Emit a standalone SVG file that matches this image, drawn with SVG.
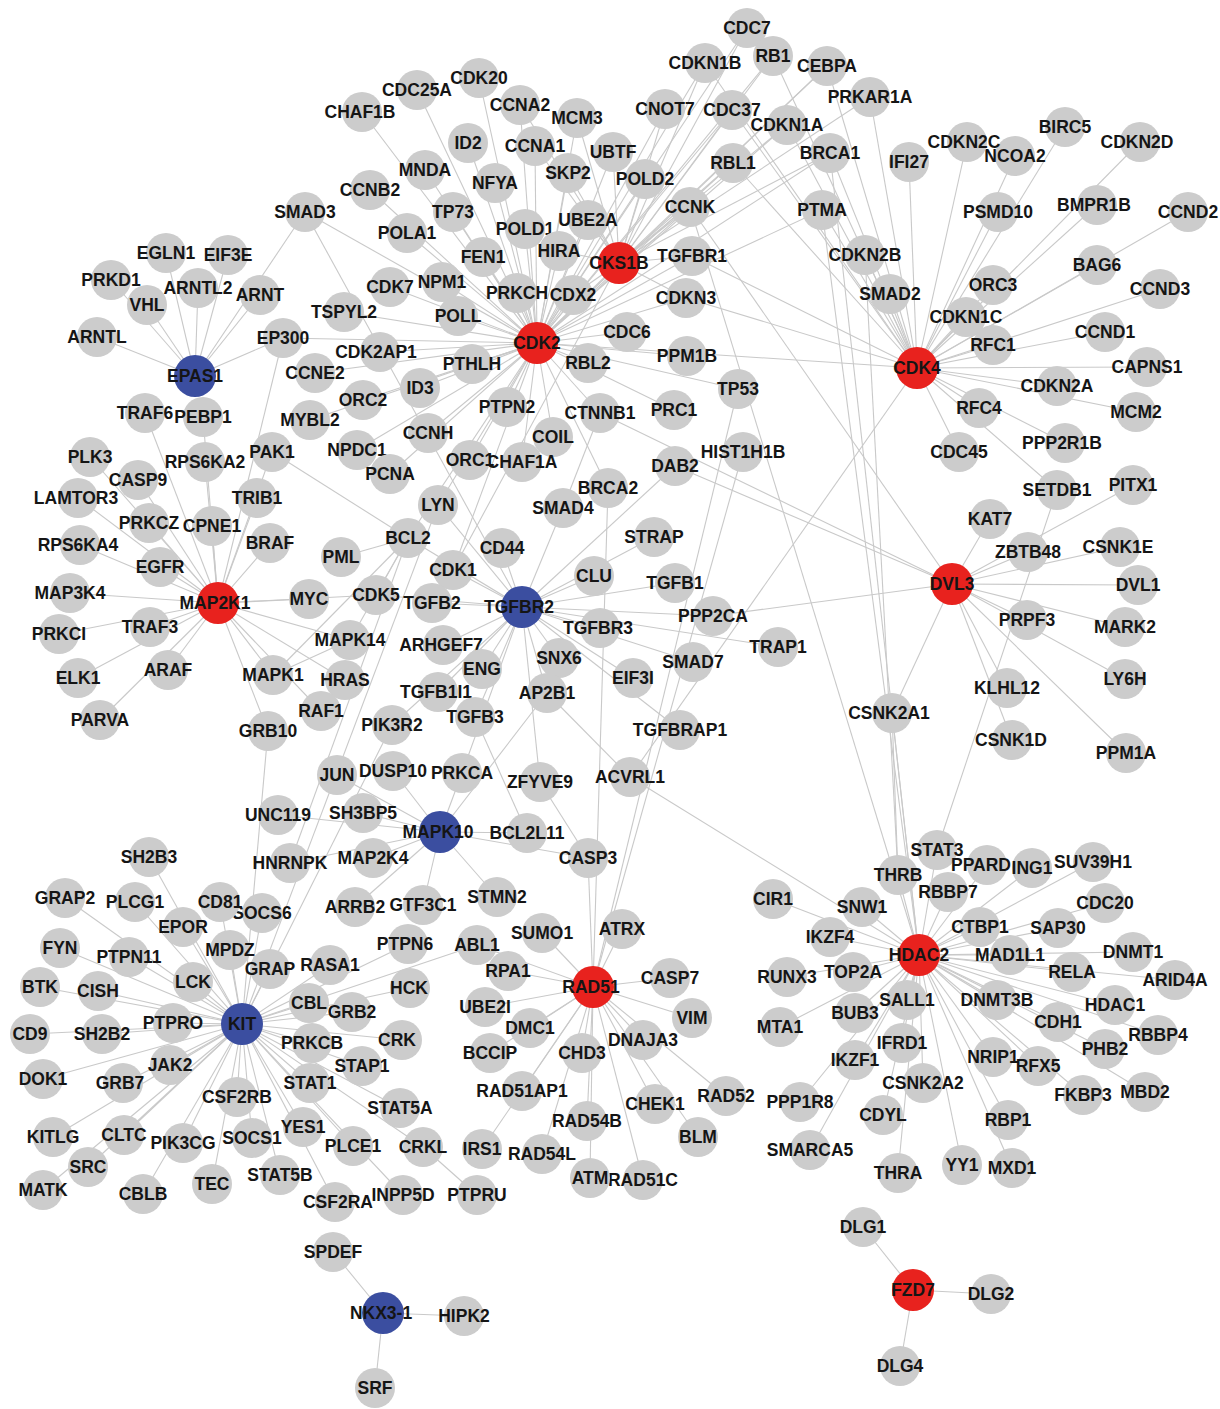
<svg xmlns="http://www.w3.org/2000/svg" width="1220" height="1409" viewBox="0 0 1220 1409">
<style>
.e line{stroke:#c9c9c9;stroke-width:1.1}
.n circle{fill:#cccccc}
.r circle{fill:#e8221e}
.b circle{fill:#3b4ea0}
text{font-family:"Liberation Sans",Arial,sans-serif;font-weight:bold;font-size:17.5px;text-anchor:middle;fill:#151515}
</style>
<rect width="1220" height="1409" fill="#ffffff"/>
<g id="connectors" class="e">
<!-- CDK2 -->
<line x1="537" y1="343" x2="417" y2="90"/><line x1="537" y1="343" x2="479" y2="78"/><line x1="537" y1="343" x2="520" y2="105"/><line x1="537" y1="343" x2="577" y2="118"/><line x1="537" y1="343" x2="468" y2="143"/><line x1="537" y1="343" x2="535" y2="146"/><line x1="537" y1="343" x2="568" y2="173"/><line x1="537" y1="343" x2="495" y2="183"/><line x1="537" y1="343" x2="425" y2="170"/><line x1="537" y1="343" x2="453" y2="212"/><line x1="537" y1="343" x2="525" y2="229"/><line x1="537" y1="343" x2="588" y2="220"/><line x1="537" y1="343" x2="559" y2="251"/><line x1="537" y1="343" x2="483" y2="257"/><line x1="537" y1="343" x2="442" y2="282"/><line x1="537" y1="343" x2="517" y2="293"/><line x1="537" y1="343" x2="573" y2="295"/><line x1="537" y1="343" x2="458" y2="316"/><line x1="537" y1="343" x2="472" y2="364"/><line x1="537" y1="343" x2="420" y2="388"/><line x1="537" y1="343" x2="507" y2="407"/><line x1="537" y1="343" x2="428" y2="433"/><line x1="537" y1="343" x2="470" y2="460"/><line x1="537" y1="343" x2="522" y2="462"/><line x1="537" y1="343" x2="362" y2="112"/><line x1="537" y1="343" x2="370" y2="190"/><line x1="537" y1="343" x2="305" y2="212"/><line x1="537" y1="343" x2="407" y2="233"/><line x1="537" y1="343" x2="390" y2="287"/><line x1="537" y1="343" x2="344" y2="312"/><line x1="537" y1="343" x2="380" y2="352"/><line x1="537" y1="343" x2="315" y2="373"/><line x1="537" y1="343" x2="363" y2="400"/><line x1="537" y1="343" x2="310" y2="420"/><line x1="537" y1="343" x2="357" y2="450"/><line x1="537" y1="343" x2="390" y2="474"/><line x1="537" y1="343" x2="283" y2="338"/><line x1="537" y1="343" x2="588" y2="363"/><line x1="537" y1="343" x2="627" y2="332"/><line x1="537" y1="343" x2="686" y2="298"/><line x1="537" y1="343" x2="692" y2="256"/><line x1="537" y1="343" x2="690" y2="207"/><line x1="537" y1="343" x2="645" y2="179"/><line x1="537" y1="343" x2="613" y2="152"/><line x1="537" y1="343" x2="665" y2="109"/><line x1="537" y1="343" x2="732" y2="110"/><line x1="537" y1="343" x2="705" y2="63"/><line x1="537" y1="343" x2="773" y2="56"/><line x1="537" y1="343" x2="747" y2="28"/><line x1="537" y1="343" x2="827" y2="66"/><line x1="537" y1="343" x2="787" y2="125"/><line x1="537" y1="343" x2="733" y2="163"/><line x1="537" y1="343" x2="830" y2="153"/><line x1="537" y1="343" x2="822" y2="210"/><line x1="537" y1="343" x2="738" y2="389"/><line x1="537" y1="343" x2="674" y2="410"/><line x1="537" y1="343" x2="600" y2="413"/><line x1="537" y1="343" x2="553" y2="437"/><line x1="537" y1="343" x2="608" y2="488"/><line x1="537" y1="343" x2="619" y2="263"/><line x1="537" y1="343" x2="408" y2="538"/><line x1="537" y1="343" x2="438" y2="505"/><line x1="537" y1="343" x2="453" y2="570"/><line x1="537" y1="343" x2="687" y2="356"/><line x1="537" y1="343" x2="917" y2="368"/>
<!-- CKS1B -->
<line x1="619" y1="263" x2="747" y2="28"/><line x1="619" y1="263" x2="705" y2="63"/><line x1="619" y1="263" x2="773" y2="56"/><line x1="619" y1="263" x2="665" y2="109"/><line x1="619" y1="263" x2="732" y2="110"/><line x1="619" y1="263" x2="787" y2="125"/><line x1="619" y1="263" x2="733" y2="163"/><line x1="619" y1="263" x2="830" y2="153"/><line x1="619" y1="263" x2="827" y2="66"/><line x1="619" y1="263" x2="870" y2="97"/><line x1="619" y1="263" x2="690" y2="207"/><line x1="619" y1="263" x2="645" y2="179"/><line x1="619" y1="263" x2="613" y2="152"/><line x1="619" y1="263" x2="568" y2="173"/><line x1="619" y1="263" x2="577" y2="118"/><line x1="619" y1="263" x2="588" y2="220"/><line x1="619" y1="263" x2="535" y2="146"/><line x1="619" y1="263" x2="520" y2="105"/><line x1="619" y1="263" x2="559" y2="251"/><line x1="619" y1="263" x2="573" y2="295"/><line x1="619" y1="263" x2="692" y2="256"/><line x1="619" y1="263" x2="686" y2="298"/><line x1="619" y1="263" x2="453" y2="570"/>
<!-- CDK4 -->
<line x1="917" y1="368" x2="909" y2="162"/><line x1="917" y1="368" x2="967" y2="142"/><line x1="917" y1="368" x2="1015" y2="156"/><line x1="917" y1="368" x2="1065" y2="127"/><line x1="917" y1="368" x2="1140" y2="142"/><line x1="917" y1="368" x2="998" y2="212"/><line x1="917" y1="368" x2="1097" y2="205"/><line x1="917" y1="368" x2="1188" y2="212"/><line x1="917" y1="368" x2="1097" y2="265"/><line x1="917" y1="368" x2="865" y2="255"/><line x1="917" y1="368" x2="890" y2="294"/><line x1="917" y1="368" x2="993" y2="285"/><line x1="917" y1="368" x2="1160" y2="289"/><line x1="917" y1="368" x2="966" y2="317"/><line x1="917" y1="368" x2="993" y2="345"/><line x1="917" y1="368" x2="1105" y2="332"/><line x1="917" y1="368" x2="1147" y2="367"/><line x1="917" y1="368" x2="1057" y2="386"/><line x1="917" y1="368" x2="1136" y2="412"/><line x1="917" y1="368" x2="979" y2="408"/><line x1="917" y1="368" x2="1065" y2="443"/><line x1="917" y1="368" x2="959" y2="452"/><line x1="917" y1="368" x2="822" y2="210"/><line x1="917" y1="368" x2="830" y2="153"/><line x1="917" y1="368" x2="787" y2="125"/><line x1="917" y1="368" x2="827" y2="66"/><line x1="917" y1="368" x2="870" y2="97"/><line x1="917" y1="368" x2="773" y2="56"/><line x1="917" y1="368" x2="705" y2="63"/><line x1="917" y1="368" x2="732" y2="110"/><line x1="917" y1="368" x2="733" y2="163"/><line x1="917" y1="368" x2="692" y2="256"/><line x1="917" y1="368" x2="686" y2="298"/><line x1="917" y1="368" x2="1057" y2="490"/><line x1="917" y1="368" x2="630" y2="777"/>
<!-- DVL3 -->
<line x1="952" y1="584" x2="990" y2="519"/><line x1="952" y1="584" x2="1028" y2="552"/><line x1="952" y1="584" x2="1120" y2="547"/><line x1="952" y1="584" x2="1138" y2="585"/><line x1="952" y1="584" x2="1027" y2="620"/><line x1="952" y1="584" x2="1125" y2="627"/><line x1="952" y1="584" x2="1125" y2="679"/><line x1="952" y1="584" x2="1007" y2="688"/><line x1="952" y1="584" x2="1012" y2="740"/><line x1="952" y1="584" x2="1126" y2="753"/><line x1="952" y1="584" x2="892" y2="713"/><line x1="952" y1="584" x2="1133" y2="485"/><line x1="952" y1="584" x2="713" y2="616"/><line x1="952" y1="584" x2="675" y2="466"/><line x1="952" y1="584" x2="600" y2="413"/><line x1="952" y1="584" x2="690" y2="207"/>
<!-- HDAC2 -->
<line x1="919" y1="955" x2="937" y2="850"/><line x1="919" y1="955" x2="987" y2="865"/><line x1="919" y1="955" x2="1032" y2="868"/><line x1="919" y1="955" x2="1093" y2="862"/><line x1="919" y1="955" x2="898" y2="875"/><line x1="919" y1="955" x2="948" y2="892"/><line x1="919" y1="955" x2="773" y2="899"/><line x1="919" y1="955" x2="862" y2="907"/><line x1="919" y1="955" x2="1105" y2="903"/><line x1="919" y1="955" x2="830" y2="937"/><line x1="919" y1="955" x2="980" y2="927"/><line x1="919" y1="955" x2="1058" y2="928"/><line x1="919" y1="955" x2="1010" y2="955"/><line x1="919" y1="955" x2="1133" y2="952"/><line x1="919" y1="955" x2="787" y2="977"/><line x1="919" y1="955" x2="853" y2="972"/><line x1="919" y1="955" x2="1072" y2="972"/><line x1="919" y1="955" x2="1175" y2="980"/><line x1="919" y1="955" x2="907" y2="1000"/><line x1="919" y1="955" x2="997" y2="1000"/><line x1="919" y1="955" x2="1115" y2="1005"/><line x1="919" y1="955" x2="780" y2="1027"/><line x1="919" y1="955" x2="855" y2="1013"/><line x1="919" y1="955" x2="1058" y2="1022"/><line x1="919" y1="955" x2="1158" y2="1035"/><line x1="919" y1="955" x2="902" y2="1043"/><line x1="919" y1="955" x2="1105" y2="1049"/><line x1="919" y1="955" x2="855" y2="1060"/><line x1="919" y1="955" x2="993" y2="1057"/><line x1="919" y1="955" x2="1038" y2="1066"/><line x1="919" y1="955" x2="923" y2="1083"/><line x1="919" y1="955" x2="800" y2="1102"/><line x1="919" y1="955" x2="1083" y2="1095"/><line x1="919" y1="955" x2="1145" y2="1092"/><line x1="919" y1="955" x2="883" y2="1115"/><line x1="919" y1="955" x2="1008" y2="1120"/><line x1="919" y1="955" x2="810" y2="1150"/><line x1="919" y1="955" x2="962" y2="1165"/><line x1="919" y1="955" x2="1012" y2="1168"/><line x1="919" y1="955" x2="898" y2="1173"/><line x1="919" y1="955" x2="892" y2="713"/><line x1="919" y1="955" x2="822" y2="210"/><line x1="919" y1="955" x2="830" y2="153"/><line x1="919" y1="955" x2="690" y2="207"/><line x1="919" y1="955" x2="630" y2="777"/>
<line x1="892" y1="713" x2="898" y2="875"/><line x1="865" y1="255" x2="898" y2="875"/><line x1="1057" y1="490" x2="937" y2="850"/>
<!-- MAP2K1 -->
<line x1="218" y1="603" x2="90" y2="457"/><line x1="218" y1="603" x2="138" y2="480"/><line x1="218" y1="603" x2="205" y2="462"/><line x1="218" y1="603" x2="78" y2="498"/><line x1="218" y1="603" x2="257" y2="498"/><line x1="218" y1="603" x2="149" y2="523"/><line x1="218" y1="603" x2="212" y2="526"/><line x1="218" y1="603" x2="80" y2="545"/><line x1="218" y1="603" x2="270" y2="543"/><line x1="218" y1="603" x2="160" y2="567"/><line x1="218" y1="603" x2="70" y2="593"/><line x1="218" y1="603" x2="309" y2="599"/><line x1="218" y1="603" x2="150" y2="627"/><line x1="218" y1="603" x2="59" y2="634"/><line x1="218" y1="603" x2="168" y2="670"/><line x1="218" y1="603" x2="78" y2="678"/><line x1="218" y1="603" x2="273" y2="675"/><line x1="218" y1="603" x2="345" y2="680"/><line x1="218" y1="603" x2="100" y2="720"/><line x1="218" y1="603" x2="321" y2="711"/><line x1="218" y1="603" x2="268" y2="731"/><line x1="218" y1="603" x2="350" y2="640"/><line x1="218" y1="603" x2="376" y2="595"/><line x1="218" y1="603" x2="145" y2="413"/><line x1="218" y1="603" x2="203" y2="417"/><line x1="218" y1="603" x2="272" y2="452"/><line x1="218" y1="603" x2="283" y2="338"/>
<!-- TGFBR2 -->
<line x1="522" y1="607" x2="438" y2="505"/><line x1="522" y1="607" x2="563" y2="508"/><line x1="522" y1="607" x2="408" y2="538"/><line x1="522" y1="607" x2="502" y2="548"/><line x1="522" y1="607" x2="654" y2="537"/><line x1="522" y1="607" x2="453" y2="570"/><line x1="522" y1="607" x2="594" y2="576"/><line x1="522" y1="607" x2="675" y2="583"/><line x1="522" y1="607" x2="432" y2="603"/><line x1="522" y1="607" x2="713" y2="616"/><line x1="522" y1="607" x2="600" y2="628"/><line x1="522" y1="607" x2="778" y2="647"/><line x1="522" y1="607" x2="443" y2="645"/><line x1="522" y1="607" x2="559" y2="658"/><line x1="522" y1="607" x2="693" y2="662"/><line x1="522" y1="607" x2="482" y2="669"/><line x1="522" y1="607" x2="633" y2="678"/><line x1="522" y1="607" x2="438" y2="692"/><line x1="522" y1="607" x2="547" y2="693"/><line x1="522" y1="607" x2="475" y2="717"/><line x1="522" y1="607" x2="680" y2="730"/><line x1="522" y1="607" x2="392" y2="725"/><line x1="522" y1="607" x2="540" y2="782"/><line x1="522" y1="607" x2="462" y2="773"/><line x1="522" y1="607" x2="675" y2="466"/><line x1="522" y1="607" x2="305" y2="212"/><line x1="522" y1="607" x2="376" y2="595"/>
<!-- MAPK10 -->
<line x1="440" y1="832" x2="337" y2="775"/><line x1="440" y1="832" x2="393" y2="771"/><line x1="440" y1="832" x2="462" y2="773"/><line x1="440" y1="832" x2="363" y2="813"/><line x1="440" y1="832" x2="278" y2="815"/><line x1="440" y1="832" x2="527" y2="833"/><line x1="440" y1="832" x2="373" y2="858"/><line x1="440" y1="832" x2="290" y2="863"/><line x1="440" y1="832" x2="588" y2="858"/><line x1="440" y1="832" x2="497" y2="897"/><line x1="440" y1="832" x2="423" y2="905"/><line x1="440" y1="832" x2="355" y2="907"/><line x1="440" y1="832" x2="547" y2="693"/>
<!-- KIT -->
<line x1="242" y1="1024" x2="149" y2="857"/><line x1="242" y1="1024" x2="65" y2="898"/><line x1="242" y1="1024" x2="135" y2="902"/><line x1="242" y1="1024" x2="220" y2="902"/><line x1="242" y1="1024" x2="262" y2="913"/><line x1="242" y1="1024" x2="183" y2="927"/><line x1="242" y1="1024" x2="60" y2="948"/><line x1="242" y1="1024" x2="129" y2="957"/><line x1="242" y1="1024" x2="230" y2="950"/><line x1="242" y1="1024" x2="193" y2="982"/><line x1="242" y1="1024" x2="270" y2="969"/><line x1="242" y1="1024" x2="330" y2="965"/><line x1="242" y1="1024" x2="40" y2="987"/><line x1="242" y1="1024" x2="98" y2="991"/><line x1="242" y1="1024" x2="309" y2="1003"/><line x1="242" y1="1024" x2="352" y2="1012"/><line x1="242" y1="1024" x2="173" y2="1023"/><line x1="242" y1="1024" x2="30" y2="1034"/><line x1="242" y1="1024" x2="102" y2="1034"/><line x1="242" y1="1024" x2="312" y2="1043"/><line x1="242" y1="1024" x2="170" y2="1065"/><line x1="242" y1="1024" x2="362" y2="1066"/><line x1="242" y1="1024" x2="43" y2="1079"/><line x1="242" y1="1024" x2="123" y2="1083"/><line x1="242" y1="1024" x2="310" y2="1083"/><line x1="242" y1="1024" x2="237" y2="1097"/><line x1="242" y1="1024" x2="400" y2="1108"/><line x1="242" y1="1024" x2="303" y2="1127"/><line x1="242" y1="1024" x2="53" y2="1137"/><line x1="242" y1="1024" x2="124" y2="1135"/><line x1="242" y1="1024" x2="183" y2="1143"/><line x1="242" y1="1024" x2="252" y2="1138"/><line x1="242" y1="1024" x2="353" y2="1146"/><line x1="242" y1="1024" x2="88" y2="1167"/><line x1="242" y1="1024" x2="280" y2="1175"/><line x1="242" y1="1024" x2="212" y2="1184"/><line x1="242" y1="1024" x2="43" y2="1190"/><line x1="242" y1="1024" x2="143" y2="1194"/><line x1="242" y1="1024" x2="335" y2="1202"/><line x1="242" y1="1024" x2="403" y2="1195"/><line x1="242" y1="1024" x2="423" y2="1147"/><line x1="242" y1="1024" x2="402" y2="1040"/><line x1="242" y1="1024" x2="410" y2="988"/><line x1="242" y1="1024" x2="408" y2="944"/><line x1="242" y1="1024" x2="477" y2="945"/><line x1="242" y1="1024" x2="438" y2="505"/><line x1="242" y1="1024" x2="268" y2="731"/><line x1="242" y1="1024" x2="392" y2="725"/>
<line x1="423" y1="1147" x2="477" y2="1195"/>
<!-- RAD51 -->
<line x1="593" y1="987" x2="477" y2="945"/><line x1="593" y1="987" x2="542" y2="933"/><line x1="593" y1="987" x2="622" y2="929"/><line x1="593" y1="987" x2="508" y2="971"/><line x1="593" y1="987" x2="670" y2="978"/><line x1="593" y1="987" x2="485" y2="1007"/><line x1="593" y1="987" x2="692" y2="1018"/><line x1="593" y1="987" x2="530" y2="1028"/><line x1="593" y1="987" x2="643" y2="1040"/><line x1="593" y1="987" x2="490" y2="1053"/><line x1="593" y1="987" x2="582" y2="1053"/><line x1="593" y1="987" x2="522" y2="1091"/><line x1="593" y1="987" x2="655" y2="1104"/><line x1="593" y1="987" x2="726" y2="1096"/><line x1="593" y1="987" x2="587" y2="1121"/><line x1="593" y1="987" x2="482" y2="1149"/><line x1="593" y1="987" x2="542" y2="1154"/><line x1="593" y1="987" x2="698" y2="1137"/><line x1="593" y1="987" x2="590" y2="1178"/><line x1="593" y1="987" x2="643" y2="1180"/><line x1="593" y1="987" x2="588" y2="858"/><line x1="593" y1="987" x2="608" y2="488"/><line x1="593" y1="987" x2="738" y2="389"/><line x1="593" y1="987" x2="743" y2="452"/>
<!-- EPAS1 -->
<line x1="195" y1="376" x2="166" y2="253"/><line x1="195" y1="376" x2="228" y2="255"/><line x1="195" y1="376" x2="111" y2="280"/><line x1="195" y1="376" x2="147" y2="305"/><line x1="195" y1="376" x2="198" y2="288"/><line x1="195" y1="376" x2="260" y2="295"/><line x1="195" y1="376" x2="97" y2="337"/><line x1="195" y1="376" x2="283" y2="338"/><line x1="195" y1="376" x2="305" y2="212"/>
<!-- NKX3-1, FZD7 -->
<line x1="383" y1="1313" x2="333" y2="1252"/><line x1="383" y1="1313" x2="464" y2="1316"/><line x1="383" y1="1313" x2="375" y2="1388"/>
<line x1="913" y1="1290" x2="863" y2="1227"/><line x1="913" y1="1290" x2="991" y2="1294"/><line x1="913" y1="1290" x2="900" y2="1366"/>
<!-- misc -->
<line x1="272" y1="452" x2="408" y2="538"/><line x1="408" y1="538" x2="341" y2="557"/><line x1="408" y1="538" x2="376" y2="595"/><line x1="408" y1="538" x2="350" y2="640"/><line x1="408" y1="538" x2="273" y2="675"/><line x1="408" y1="538" x2="290" y2="863"/><line x1="563" y1="508" x2="600" y2="413"/><line x1="540" y1="782" x2="588" y2="858"/><line x1="547" y1="693" x2="630" y2="777"/><line x1="475" y1="717" x2="527" y2="833"/><line x1="273" y1="675" x2="350" y2="640"/>
</g>
<g id="nodes">
<g id="CDC7" class="n"><circle cx="747" cy="28" r="20"/><text x="747" y="34">CDC7</text></g>
<g id="CDKN1B" class="n"><circle cx="705" cy="63" r="20"/><text x="705" y="69">CDKN1B</text></g>
<g id="RB1" class="n"><circle cx="773" cy="56" r="20"/><text x="773" y="62">RB1</text></g>
<g id="CEBPA" class="n"><circle cx="827" cy="66" r="20"/><text x="827" y="72">CEBPA</text></g>
<g id="PRKAR1A" class="n"><circle cx="870" cy="97" r="20"/><text x="870" y="103">PRKAR1A</text></g>
<g id="CNOT7" class="n"><circle cx="665" cy="109" r="20"/><text x="665" y="115">CNOT7</text></g>
<g id="CDKN1A" class="n"><circle cx="787" cy="125" r="20"/><text x="787" y="131">CDKN1A</text></g>
<g id="CDC37" class="n"><circle cx="732" cy="110" r="20"/><text x="732" y="116">CDC37</text></g>
<g id="BRCA1" class="n"><circle cx="830" cy="153" r="20"/><text x="830" y="159">BRCA1</text></g>
<g id="RBL1" class="n"><circle cx="733" cy="163" r="20"/><text x="733" y="169">RBL1</text></g>
<g id="PTMA" class="n"><circle cx="822" cy="210" r="20"/><text x="822" y="216">PTMA</text></g>
<g id="CCNK" class="n"><circle cx="690" cy="207" r="20"/><text x="690" y="213">CCNK</text></g>
<g id="POLD2" class="n"><circle cx="645" cy="179" r="20"/><text x="645" y="185">POLD2</text></g>
<g id="UBTF" class="n"><circle cx="613" cy="152" r="20"/><text x="613" y="158">UBTF</text></g>
<g id="TGFBR1" class="n"><circle cx="692" cy="256" r="20"/><text x="692" y="262">TGFBR1</text></g>
<g id="CDKN3" class="n"><circle cx="686" cy="298" r="20"/><text x="686" y="304">CDKN3</text></g>
<g id="CDC6" class="n"><circle cx="627" cy="332" r="20"/><text x="627" y="338">CDC6</text></g>
<g id="PPM1B" class="n"><circle cx="687" cy="356" r="20"/><text x="687" y="362">PPM1B</text></g>
<g id="RBL2" class="n"><circle cx="588" cy="363" r="20"/><text x="588" y="369">RBL2</text></g>
<g id="TP53" class="n"><circle cx="738" cy="389" r="20"/><text x="738" y="395">TP53</text></g>
<g id="PRC1" class="n"><circle cx="674" cy="410" r="20"/><text x="674" y="416">PRC1</text></g>
<g id="CTNNB1" class="n"><circle cx="600" cy="413" r="20"/><text x="600" y="419">CTNNB1</text></g>
<g id="COIL" class="n"><circle cx="553" cy="437" r="20"/><text x="553" y="443">COIL</text></g>
<g id="HIST1H1B" class="n"><circle cx="743" cy="452" r="20"/><text x="743" y="458">HIST1H1B</text></g>
<g id="DAB2" class="n"><circle cx="675" cy="466" r="20"/><text x="675" y="472">DAB2</text></g>
<g id="CDC25A" class="n"><circle cx="417" cy="90" r="20"/><text x="417" y="96">CDC25A</text></g>
<g id="CDK20" class="n"><circle cx="479" cy="78" r="20"/><text x="479" y="84">CDK20</text></g>
<g id="CCNA2" class="n"><circle cx="520" cy="105" r="20"/><text x="520" y="111">CCNA2</text></g>
<g id="MCM3" class="n"><circle cx="577" cy="118" r="20"/><text x="577" y="124">MCM3</text></g>
<g id="ID2" class="n"><circle cx="468" cy="143" r="20"/><text x="468" y="149">ID2</text></g>
<g id="CCNA1" class="n"><circle cx="535" cy="146" r="20"/><text x="535" y="152">CCNA1</text></g>
<g id="SKP2" class="n"><circle cx="568" cy="173" r="20"/><text x="568" y="179">SKP2</text></g>
<g id="MNDA" class="n"><circle cx="425" cy="170" r="20"/><text x="425" y="176">MNDA</text></g>
<g id="NFYA" class="n"><circle cx="495" cy="183" r="20"/><text x="495" y="189">NFYA</text></g>
<g id="TP73" class="n"><circle cx="453" cy="212" r="20"/><text x="453" y="218">TP73</text></g>
<g id="UBE2A" class="n"><circle cx="588" cy="220" r="20"/><text x="588" y="226">UBE2A</text></g>
<g id="POLD1" class="n"><circle cx="525" cy="229" r="20"/><text x="525" y="235">POLD1</text></g>
<g id="HIRA" class="n"><circle cx="559" cy="251" r="20"/><text x="559" y="257">HIRA</text></g>
<g id="FEN1" class="n"><circle cx="483" cy="257" r="20"/><text x="483" y="263">FEN1</text></g>
<g id="NPM1" class="n"><circle cx="442" cy="282" r="20"/><text x="442" y="288">NPM1</text></g>
<g id="CDX2" class="n"><circle cx="573" cy="295" r="20"/><text x="573" y="301">CDX2</text></g>
<g id="PRKCH" class="n"><circle cx="517" cy="293" r="20"/><text x="517" y="299">PRKCH</text></g>
<g id="POLL" class="n"><circle cx="458" cy="316" r="20"/><text x="458" y="322">POLL</text></g>
<g id="PTHLH" class="n"><circle cx="472" cy="364" r="20"/><text x="472" y="370">PTHLH</text></g>
<g id="ID3" class="n"><circle cx="420" cy="388" r="20"/><text x="420" y="394">ID3</text></g>
<g id="PTPN2" class="n"><circle cx="507" cy="407" r="20"/><text x="507" y="413">PTPN2</text></g>
<g id="CCNH" class="n"><circle cx="428" cy="433" r="20"/><text x="428" y="439">CCNH</text></g>
<g id="CHAF1A" class="n"><circle cx="522" cy="462" r="20"/><text x="522" y="468">CHAF1A</text></g>
<g id="ORC1" class="n"><circle cx="470" cy="460" r="20"/><text x="470" y="466">ORC1</text></g>
<g id="CHAF1B" class="n"><circle cx="362" cy="112" r="20"/><text x="360" y="118">CHAF1B</text></g>
<g id="CCNB2" class="n"><circle cx="370" cy="190" r="20"/><text x="370" y="196">CCNB2</text></g>
<g id="SMAD3" class="n"><circle cx="305" cy="212" r="20"/><text x="305" y="218">SMAD3</text></g>
<g id="POLA1" class="n"><circle cx="407" cy="233" r="20"/><text x="407" y="239">POLA1</text></g>
<g id="CDK7" class="n"><circle cx="390" cy="287" r="20"/><text x="390" y="293">CDK7</text></g>
<g id="TSPYL2" class="n"><circle cx="344" cy="312" r="20"/><text x="344" y="318">TSPYL2</text></g>
<g id="CDK2AP1" class="n"><circle cx="380" cy="352" r="20"/><text x="376" y="358">CDK2AP1</text></g>
<g id="CCNE2" class="n"><circle cx="315" cy="373" r="20"/><text x="315" y="379">CCNE2</text></g>
<g id="ORC2" class="n"><circle cx="363" cy="400" r="20"/><text x="363" y="406">ORC2</text></g>
<g id="MYBL2" class="n"><circle cx="310" cy="420" r="20"/><text x="310" y="426">MYBL2</text></g>
<g id="NPDC1" class="n"><circle cx="357" cy="450" r="20"/><text x="357" y="456">NPDC1</text></g>
<g id="PCNA" class="n"><circle cx="390" cy="474" r="20"/><text x="390" y="480">PCNA</text></g>
<g id="EP300" class="n"><circle cx="283" cy="338" r="20"/><text x="283" y="344">EP300</text></g>
<g id="PAK1" class="n"><circle cx="272" cy="452" r="20"/><text x="272" y="458">PAK1</text></g>
<g id="EGLN1" class="n"><circle cx="166" cy="253" r="20"/><text x="166" y="259">EGLN1</text></g>
<g id="EIF3E" class="n"><circle cx="228" cy="255" r="20"/><text x="228" y="261">EIF3E</text></g>
<g id="PRKD1" class="n"><circle cx="111" cy="280" r="20"/><text x="111" y="286">PRKD1</text></g>
<g id="VHL" class="n"><circle cx="147" cy="305" r="20"/><text x="147" y="311">VHL</text></g>
<g id="ARNTL2" class="n"><circle cx="198" cy="288" r="20"/><text x="198" y="294">ARNTL2</text></g>
<g id="ARNT" class="n"><circle cx="260" cy="295" r="20"/><text x="260" y="301">ARNT</text></g>
<g id="ARNTL" class="n"><circle cx="97" cy="337" r="20"/><text x="97" y="343">ARNTL</text></g>
<g id="TRAF6" class="n"><circle cx="145" cy="413" r="20"/><text x="145" y="419">TRAF6</text></g>
<g id="PEBP1" class="n"><circle cx="203" cy="417" r="20"/><text x="203" y="423">PEBP1</text></g>
<g id="PLK3" class="n"><circle cx="90" cy="457" r="20"/><text x="90" y="463">PLK3</text></g>
<g id="CASP9" class="n"><circle cx="138" cy="480" r="20"/><text x="138" y="486">CASP9</text></g>
<g id="RPS6KA2" class="n"><circle cx="205" cy="462" r="20"/><text x="205" y="468">RPS6KA2</text></g>
<g id="LAMTOR3" class="n"><circle cx="78" cy="498" r="20"/><text x="76" y="504">LAMTOR3</text></g>
<g id="TRIB1" class="n"><circle cx="257" cy="498" r="20"/><text x="257" y="504">TRIB1</text></g>
<g id="PRKCZ" class="n"><circle cx="149" cy="523" r="20"/><text x="149" y="529">PRKCZ</text></g>
<g id="CPNE1" class="n"><circle cx="212" cy="526" r="20"/><text x="212" y="532">CPNE1</text></g>
<g id="RPS6KA4" class="n"><circle cx="80" cy="545" r="20"/><text x="78" y="551">RPS6KA4</text></g>
<g id="BRAF" class="n"><circle cx="270" cy="543" r="20"/><text x="270" y="549">BRAF</text></g>
<g id="EGFR" class="n"><circle cx="160" cy="567" r="20"/><text x="160" y="573">EGFR</text></g>
<g id="PML" class="n"><circle cx="341" cy="557" r="20"/><text x="341" y="563">PML</text></g>
<g id="MAP3K4" class="n"><circle cx="70" cy="593" r="20"/><text x="70" y="599">MAP3K4</text></g>
<g id="MYC" class="n"><circle cx="309" cy="599" r="20"/><text x="309" y="605">MYC</text></g>
<g id="CDK5" class="n"><circle cx="376" cy="595" r="20"/><text x="376" y="601">CDK5</text></g>
<g id="TRAF3" class="n"><circle cx="150" cy="627" r="20"/><text x="150" y="633">TRAF3</text></g>
<g id="PRKCI" class="n"><circle cx="59" cy="634" r="20"/><text x="59" y="640">PRKCI</text></g>
<g id="MAPK14" class="n"><circle cx="350" cy="640" r="20"/><text x="350" y="646">MAPK14</text></g>
<g id="ARAF" class="n"><circle cx="168" cy="670" r="20"/><text x="168" y="676">ARAF</text></g>
<g id="ELK1" class="n"><circle cx="78" cy="678" r="20"/><text x="78" y="684">ELK1</text></g>
<g id="MAPK1" class="n"><circle cx="273" cy="675" r="20"/><text x="273" y="681">MAPK1</text></g>
<g id="HRAS" class="n"><circle cx="345" cy="680" r="20"/><text x="345" y="686">HRAS</text></g>
<g id="PARVA" class="n"><circle cx="100" cy="720" r="20"/><text x="100" y="726">PARVA</text></g>
<g id="RAF1" class="n"><circle cx="321" cy="711" r="20"/><text x="321" y="717">RAF1</text></g>
<g id="GRB10" class="n"><circle cx="268" cy="731" r="20"/><text x="268" y="737">GRB10</text></g>
<g id="LYN" class="n"><circle cx="438" cy="505" r="20"/><text x="438" y="511">LYN</text></g>
<g id="SMAD4" class="n"><circle cx="563" cy="508" r="20"/><text x="563" y="514">SMAD4</text></g>
<g id="BRCA2" class="n"><circle cx="608" cy="488" r="20"/><text x="608" y="494">BRCA2</text></g>
<g id="BCL2" class="n"><circle cx="408" cy="538" r="20"/><text x="408" y="544">BCL2</text></g>
<g id="CD44" class="n"><circle cx="502" cy="548" r="20"/><text x="502" y="554">CD44</text></g>
<g id="STRAP" class="n"><circle cx="654" cy="537" r="20"/><text x="654" y="543">STRAP</text></g>
<g id="CDK1" class="n"><circle cx="453" cy="570" r="20"/><text x="453" y="576">CDK1</text></g>
<g id="CLU" class="n"><circle cx="594" cy="576" r="20"/><text x="594" y="582">CLU</text></g>
<g id="TGFB1" class="n"><circle cx="675" cy="583" r="20"/><text x="675" y="589">TGFB1</text></g>
<g id="TGFB2" class="n"><circle cx="432" cy="603" r="20"/><text x="432" y="609">TGFB2</text></g>
<g id="PPP2CA" class="n"><circle cx="713" cy="616" r="20"/><text x="713" y="622">PPP2CA</text></g>
<g id="TGFBR3" class="n"><circle cx="600" cy="628" r="20"/><text x="598" y="634">TGFBR3</text></g>
<g id="TRAP1" class="n"><circle cx="778" cy="647" r="20"/><text x="778" y="653">TRAP1</text></g>
<g id="ARHGEF7" class="n"><circle cx="443" cy="645" r="20"/><text x="441" y="651">ARHGEF7</text></g>
<g id="SNX6" class="n"><circle cx="559" cy="658" r="20"/><text x="559" y="664">SNX6</text></g>
<g id="SMAD7" class="n"><circle cx="693" cy="662" r="20"/><text x="693" y="668">SMAD7</text></g>
<g id="ENG" class="n"><circle cx="482" cy="669" r="20"/><text x="482" y="675">ENG</text></g>
<g id="EIF3I" class="n"><circle cx="633" cy="678" r="20"/><text x="633" y="684">EIF3I</text></g>
<g id="TGFB1I1" class="n"><circle cx="438" cy="692" r="20"/><text x="436" y="698">TGFB1I1</text></g>
<g id="AP2B1" class="n"><circle cx="547" cy="693" r="20"/><text x="547" y="699">AP2B1</text></g>
<g id="TGFB3" class="n"><circle cx="475" cy="717" r="20"/><text x="475" y="723">TGFB3</text></g>
<g id="TGFBRAP1" class="n"><circle cx="680" cy="730" r="20"/><text x="680" y="736">TGFBRAP1</text></g>
<g id="PIK3R2" class="n"><circle cx="392" cy="725" r="20"/><text x="392" y="731">PIK3R2</text></g>
<g id="ZFYVE9" class="n"><circle cx="540" cy="782" r="20"/><text x="540" y="788">ZFYVE9</text></g>
<g id="ACVRL1" class="n"><circle cx="630" cy="777" r="20"/><text x="630" y="783">ACVRL1</text></g>
<g id="JUN" class="n"><circle cx="337" cy="775" r="20"/><text x="337" y="781">JUN</text></g>
<g id="DUSP10" class="n"><circle cx="393" cy="771" r="20"/><text x="393" y="777">DUSP10</text></g>
<g id="PRKCA" class="n"><circle cx="462" cy="773" r="20"/><text x="462" y="779">PRKCA</text></g>
<g id="SH3BP5" class="n"><circle cx="363" cy="813" r="20"/><text x="363" y="819">SH3BP5</text></g>
<g id="UNC119" class="n"><circle cx="278" cy="815" r="20"/><text x="278" y="821">UNC119</text></g>
<g id="BCL2L11" class="n"><circle cx="527" cy="833" r="20"/><text x="527" y="839">BCL2L11</text></g>
<g id="MAP2K4" class="n"><circle cx="373" cy="858" r="20"/><text x="373" y="864">MAP2K4</text></g>
<g id="HNRNPK" class="n"><circle cx="290" cy="863" r="20"/><text x="290" y="869">HNRNPK</text></g>
<g id="CASP3" class="n"><circle cx="588" cy="858" r="20"/><text x="588" y="864">CASP3</text></g>
<g id="STMN2" class="n"><circle cx="497" cy="897" r="20"/><text x="497" y="903">STMN2</text></g>
<g id="GTF3C1" class="n"><circle cx="423" cy="905" r="20"/><text x="423" y="911">GTF3C1</text></g>
<g id="ARRB2" class="n"><circle cx="355" cy="907" r="20"/><text x="355" y="913">ARRB2</text></g>
<g id="SH2B3" class="n"><circle cx="149" cy="857" r="20"/><text x="149" y="863">SH2B3</text></g>
<g id="GRAP2" class="n"><circle cx="65" cy="898" r="20"/><text x="65" y="904">GRAP2</text></g>
<g id="PLCG1" class="n"><circle cx="135" cy="902" r="20"/><text x="135" y="908">PLCG1</text></g>
<g id="SOCS6" class="n"><circle cx="262" cy="913" r="20"/><text x="262" y="919">SOCS6</text></g>
<g id="CD81" class="n"><circle cx="220" cy="902" r="20"/><text x="220" y="908">CD81</text></g>
<g id="EPOR" class="n"><circle cx="183" cy="927" r="20"/><text x="183" y="933">EPOR</text></g>
<g id="FYN" class="n"><circle cx="60" cy="948" r="20"/><text x="60" y="954">FYN</text></g>
<g id="PTPN11" class="n"><circle cx="129" cy="957" r="20"/><text x="129" y="963">PTPN11</text></g>
<g id="MPDZ" class="n"><circle cx="230" cy="950" r="20"/><text x="230" y="956">MPDZ</text></g>
<g id="RASA1" class="n"><circle cx="330" cy="965" r="20"/><text x="330" y="971">RASA1</text></g>
<g id="GRAP" class="n"><circle cx="270" cy="969" r="20"/><text x="270" y="975">GRAP</text></g>
<g id="BTK" class="n"><circle cx="40" cy="987" r="20"/><text x="40" y="993">BTK</text></g>
<g id="CISH" class="n"><circle cx="98" cy="991" r="20"/><text x="98" y="997">CISH</text></g>
<g id="LCK" class="n"><circle cx="193" cy="982" r="20"/><text x="193" y="988">LCK</text></g>
<g id="GRB2" class="n"><circle cx="352" cy="1012" r="20"/><text x="352" y="1018">GRB2</text></g>
<g id="CBL" class="n"><circle cx="309" cy="1003" r="20"/><text x="309" y="1009">CBL</text></g>
<g id="PTPRO" class="n"><circle cx="173" cy="1023" r="20"/><text x="173" y="1029">PTPRO</text></g>
<g id="CD9" class="n"><circle cx="30" cy="1034" r="20"/><text x="30" y="1040">CD9</text></g>
<g id="SH2B2" class="n"><circle cx="102" cy="1034" r="20"/><text x="102" y="1040">SH2B2</text></g>
<g id="PRKCB" class="n"><circle cx="312" cy="1043" r="20"/><text x="312" y="1049">PRKCB</text></g>
<g id="JAK2" class="n"><circle cx="170" cy="1065" r="20"/><text x="170" y="1071">JAK2</text></g>
<g id="STAP1" class="n"><circle cx="362" cy="1066" r="20"/><text x="362" y="1072">STAP1</text></g>
<g id="DOK1" class="n"><circle cx="43" cy="1079" r="20"/><text x="43" y="1085">DOK1</text></g>
<g id="GRB7" class="n"><circle cx="123" cy="1083" r="20"/><text x="120" y="1089">GRB7</text></g>
<g id="STAT1" class="n"><circle cx="310" cy="1083" r="20"/><text x="310" y="1089">STAT1</text></g>
<g id="CSF2RB" class="n"><circle cx="237" cy="1097" r="20"/><text x="237" y="1103">CSF2RB</text></g>
<g id="STAT5A" class="n"><circle cx="400" cy="1108" r="20"/><text x="400" y="1114">STAT5A</text></g>
<g id="YES1" class="n"><circle cx="303" cy="1127" r="20"/><text x="303" y="1133">YES1</text></g>
<g id="KITLG" class="n"><circle cx="53" cy="1137" r="20"/><text x="53" y="1143">KITLG</text></g>
<g id="CLTC" class="n"><circle cx="124" cy="1135" r="20"/><text x="124" y="1141">CLTC</text></g>
<g id="PIK3CG" class="n"><circle cx="183" cy="1143" r="20"/><text x="183" y="1149">PIK3CG</text></g>
<g id="SOCS1" class="n"><circle cx="252" cy="1138" r="20"/><text x="252" y="1144">SOCS1</text></g>
<g id="PLCE1" class="n"><circle cx="353" cy="1146" r="20"/><text x="353" y="1152">PLCE1</text></g>
<g id="CRKL" class="n"><circle cx="423" cy="1147" r="20"/><text x="423" y="1153">CRKL</text></g>
<g id="SRC" class="n"><circle cx="88" cy="1167" r="20"/><text x="88" y="1173">SRC</text></g>
<g id="STAT5B" class="n"><circle cx="280" cy="1175" r="20"/><text x="280" y="1181">STAT5B</text></g>
<g id="TEC" class="n"><circle cx="212" cy="1184" r="20"/><text x="212" y="1190">TEC</text></g>
<g id="MATK" class="n"><circle cx="43" cy="1190" r="20"/><text x="43" y="1196">MATK</text></g>
<g id="CBLB" class="n"><circle cx="143" cy="1194" r="20"/><text x="143" y="1200">CBLB</text></g>
<g id="INPP5D" class="n"><circle cx="403" cy="1195" r="20"/><text x="403" y="1201">INPP5D</text></g>
<g id="CSF2RA" class="n"><circle cx="335" cy="1202" r="20"/><text x="338" y="1208">CSF2RA</text></g>
<g id="PTPRU" class="n"><circle cx="477" cy="1195" r="20"/><text x="477" y="1201">PTPRU</text></g>
<g id="CRK" class="n"><circle cx="402" cy="1040" r="20"/><text x="397" y="1046">CRK</text></g>
<g id="HCK" class="n"><circle cx="410" cy="988" r="20"/><text x="409" y="994">HCK</text></g>
<g id="PTPN6" class="n"><circle cx="408" cy="944" r="20"/><text x="405" y="950">PTPN6</text></g>
<g id="SPDEF" class="n"><circle cx="333" cy="1252" r="20"/><text x="333" y="1258">SPDEF</text></g>
<g id="HIPK2" class="n"><circle cx="464" cy="1316" r="20"/><text x="464" y="1322">HIPK2</text></g>
<g id="SRF" class="n"><circle cx="375" cy="1388" r="20"/><text x="375" y="1394">SRF</text></g>
<g id="ABL1" class="n"><circle cx="477" cy="945" r="20"/><text x="477" y="951">ABL1</text></g>
<g id="SUMO1" class="n"><circle cx="542" cy="933" r="20"/><text x="542" y="939">SUMO1</text></g>
<g id="ATRX" class="n"><circle cx="622" cy="929" r="20"/><text x="622" y="935">ATRX</text></g>
<g id="RPA1" class="n"><circle cx="508" cy="971" r="20"/><text x="508" y="977">RPA1</text></g>
<g id="CASP7" class="n"><circle cx="670" cy="978" r="20"/><text x="670" y="984">CASP7</text></g>
<g id="UBE2I" class="n"><circle cx="485" cy="1007" r="20"/><text x="485" y="1013">UBE2I</text></g>
<g id="VIM" class="n"><circle cx="692" cy="1018" r="20"/><text x="692" y="1024">VIM</text></g>
<g id="DMC1" class="n"><circle cx="530" cy="1028" r="20"/><text x="530" y="1034">DMC1</text></g>
<g id="DNAJA3" class="n"><circle cx="643" cy="1040" r="20"/><text x="643" y="1046">DNAJA3</text></g>
<g id="BCCIP" class="n"><circle cx="490" cy="1053" r="20"/><text x="490" y="1059">BCCIP</text></g>
<g id="CHD3" class="n"><circle cx="582" cy="1053" r="20"/><text x="582" y="1059">CHD3</text></g>
<g id="RAD51AP1" class="n"><circle cx="522" cy="1091" r="20"/><text x="522" y="1097">RAD51AP1</text></g>
<g id="CHEK1" class="n"><circle cx="655" cy="1104" r="20"/><text x="655" y="1110">CHEK1</text></g>
<g id="RAD52" class="n"><circle cx="726" cy="1096" r="20"/><text x="726" y="1102">RAD52</text></g>
<g id="RAD54B" class="n"><circle cx="587" cy="1121" r="20"/><text x="587" y="1127">RAD54B</text></g>
<g id="IRS1" class="n"><circle cx="482" cy="1149" r="20"/><text x="482" y="1155">IRS1</text></g>
<g id="RAD54L" class="n"><circle cx="542" cy="1154" r="20"/><text x="542" y="1160">RAD54L</text></g>
<g id="BLM" class="n"><circle cx="698" cy="1137" r="20"/><text x="698" y="1143">BLM</text></g>
<g id="RAD51C" class="n"><circle cx="643" cy="1180" r="20"/><text x="643" y="1186">RAD51C</text></g>
<g id="ATM" class="n"><circle cx="590" cy="1178" r="20"/><text x="590" y="1184">ATM</text></g>
<g id="STAT3" class="n"><circle cx="937" cy="850" r="20"/><text x="937" y="856">STAT3</text></g>
<g id="ING1" class="n"><circle cx="1032" cy="868" r="20"/><text x="1032" y="874">ING1</text></g>
<g id="PPARD" class="n"><circle cx="987" cy="865" r="20"/><text x="981" y="871">PPARD</text></g>
<g id="SUV39H1" class="n"><circle cx="1093" cy="862" r="20"/><text x="1093" y="868">SUV39H1</text></g>
<g id="THRB" class="n"><circle cx="898" cy="875" r="20"/><text x="898" y="881">THRB</text></g>
<g id="RBBP7" class="n"><circle cx="948" cy="892" r="20"/><text x="948" y="898">RBBP7</text></g>
<g id="CIR1" class="n"><circle cx="773" cy="899" r="20"/><text x="773" y="905">CIR1</text></g>
<g id="SNW1" class="n"><circle cx="862" cy="907" r="20"/><text x="862" y="913">SNW1</text></g>
<g id="CDC20" class="n"><circle cx="1105" cy="903" r="20"/><text x="1105" y="909">CDC20</text></g>
<g id="IKZF4" class="n"><circle cx="830" cy="937" r="20"/><text x="830" y="943">IKZF4</text></g>
<g id="CTBP1" class="n"><circle cx="980" cy="927" r="20"/><text x="980" y="933">CTBP1</text></g>
<g id="SAP30" class="n"><circle cx="1058" cy="928" r="20"/><text x="1058" y="934">SAP30</text></g>
<g id="MAD1L1" class="n"><circle cx="1010" cy="955" r="20"/><text x="1010" y="961">MAD1L1</text></g>
<g id="DNMT1" class="n"><circle cx="1133" cy="952" r="20"/><text x="1133" y="958">DNMT1</text></g>
<g id="RUNX3" class="n"><circle cx="787" cy="977" r="20"/><text x="787" y="983">RUNX3</text></g>
<g id="TOP2A" class="n"><circle cx="853" cy="972" r="20"/><text x="853" y="978">TOP2A</text></g>
<g id="RELA" class="n"><circle cx="1072" cy="972" r="20"/><text x="1072" y="978">RELA</text></g>
<g id="ARID4A" class="n"><circle cx="1175" cy="980" r="20"/><text x="1175" y="986">ARID4A</text></g>
<g id="SALL1" class="n"><circle cx="907" cy="1000" r="20"/><text x="907" y="1006">SALL1</text></g>
<g id="DNMT3B" class="n"><circle cx="997" cy="1000" r="20"/><text x="997" y="1006">DNMT3B</text></g>
<g id="HDAC1" class="n"><circle cx="1115" cy="1005" r="20"/><text x="1115" y="1011">HDAC1</text></g>
<g id="MTA1" class="n"><circle cx="780" cy="1027" r="20"/><text x="780" y="1033">MTA1</text></g>
<g id="BUB3" class="n"><circle cx="855" cy="1013" r="20"/><text x="855" y="1019">BUB3</text></g>
<g id="CDH1" class="n"><circle cx="1058" cy="1022" r="20"/><text x="1058" y="1028">CDH1</text></g>
<g id="RBBP4" class="n"><circle cx="1158" cy="1035" r="20"/><text x="1158" y="1041">RBBP4</text></g>
<g id="IFRD1" class="n"><circle cx="902" cy="1043" r="20"/><text x="902" y="1049">IFRD1</text></g>
<g id="PHB2" class="n"><circle cx="1105" cy="1049" r="20"/><text x="1105" y="1055">PHB2</text></g>
<g id="IKZF1" class="n"><circle cx="855" cy="1060" r="20"/><text x="855" y="1066">IKZF1</text></g>
<g id="RFX5" class="n"><circle cx="1038" cy="1066" r="20"/><text x="1038" y="1072">RFX5</text></g>
<g id="NRIP1" class="n"><circle cx="993" cy="1057" r="20"/><text x="993" y="1063">NRIP1</text></g>
<g id="CSNK2A2" class="n"><circle cx="923" cy="1083" r="20"/><text x="923" y="1089">CSNK2A2</text></g>
<g id="PPP1R8" class="n"><circle cx="800" cy="1102" r="20"/><text x="800" y="1108">PPP1R8</text></g>
<g id="FKBP3" class="n"><circle cx="1083" cy="1095" r="20"/><text x="1083" y="1101">FKBP3</text></g>
<g id="MBD2" class="n"><circle cx="1145" cy="1092" r="20"/><text x="1145" y="1098">MBD2</text></g>
<g id="CDYL" class="n"><circle cx="883" cy="1115" r="20"/><text x="883" y="1121">CDYL</text></g>
<g id="RBP1" class="n"><circle cx="1008" cy="1120" r="20"/><text x="1008" y="1126">RBP1</text></g>
<g id="SMARCA5" class="n"><circle cx="810" cy="1150" r="20"/><text x="810" y="1156">SMARCA5</text></g>
<g id="YY1" class="n"><circle cx="962" cy="1165" r="20"/><text x="962" y="1171">YY1</text></g>
<g id="MXD1" class="n"><circle cx="1012" cy="1168" r="20"/><text x="1012" y="1174">MXD1</text></g>
<g id="THRA" class="n"><circle cx="898" cy="1173" r="20"/><text x="898" y="1179">THRA</text></g>
<g id="DLG1" class="n"><circle cx="863" cy="1227" r="20"/><text x="863" y="1233">DLG1</text></g>
<g id="DLG2" class="n"><circle cx="991" cy="1294" r="20"/><text x="991" y="1300">DLG2</text></g>
<g id="DLG4" class="n"><circle cx="900" cy="1366" r="20"/><text x="900" y="1372">DLG4</text></g>
<g id="IFI27" class="n"><circle cx="909" cy="162" r="20"/><text x="909" y="168">IFI27</text></g>
<g id="NCOA2" class="n"><circle cx="1015" cy="156" r="20"/><text x="1015" y="162">NCOA2</text></g>
<g id="CDKN2C" class="n"><circle cx="967" cy="142" r="20"/><text x="964" y="148">CDKN2C</text></g>
<g id="BIRC5" class="n"><circle cx="1065" cy="127" r="20"/><text x="1065" y="133">BIRC5</text></g>
<g id="CDKN2D" class="n"><circle cx="1140" cy="142" r="20"/><text x="1137" y="148">CDKN2D</text></g>
<g id="PSMD10" class="n"><circle cx="998" cy="212" r="20"/><text x="998" y="218">PSMD10</text></g>
<g id="BMPR1B" class="n"><circle cx="1097" cy="205" r="20"/><text x="1094" y="211">BMPR1B</text></g>
<g id="CCND2" class="n"><circle cx="1188" cy="212" r="20"/><text x="1188" y="218">CCND2</text></g>
<g id="CDKN2B" class="n"><circle cx="865" cy="255" r="20"/><text x="865" y="261">CDKN2B</text></g>
<g id="BAG6" class="n"><circle cx="1097" cy="265" r="20"/><text x="1097" y="271">BAG6</text></g>
<g id="SMAD2" class="n"><circle cx="890" cy="294" r="20"/><text x="890" y="300">SMAD2</text></g>
<g id="ORC3" class="n"><circle cx="993" cy="285" r="20"/><text x="993" y="291">ORC3</text></g>
<g id="CCND3" class="n"><circle cx="1160" cy="289" r="20"/><text x="1160" y="295">CCND3</text></g>
<g id="CDKN1C" class="n"><circle cx="966" cy="317" r="20"/><text x="966" y="323">CDKN1C</text></g>
<g id="RFC1" class="n"><circle cx="993" cy="345" r="20"/><text x="993" y="351">RFC1</text></g>
<g id="CCND1" class="n"><circle cx="1105" cy="332" r="20"/><text x="1105" y="338">CCND1</text></g>
<g id="CAPNS1" class="n"><circle cx="1147" cy="367" r="20"/><text x="1147" y="373">CAPNS1</text></g>
<g id="CDKN2A" class="n"><circle cx="1057" cy="386" r="20"/><text x="1057" y="392">CDKN2A</text></g>
<g id="MCM2" class="n"><circle cx="1136" cy="412" r="20"/><text x="1136" y="418">MCM2</text></g>
<g id="RFC4" class="n"><circle cx="979" cy="408" r="20"/><text x="979" y="414">RFC4</text></g>
<g id="PPP2R1B" class="n"><circle cx="1065" cy="443" r="20"/><text x="1062" y="449">PPP2R1B</text></g>
<g id="CDC45" class="n"><circle cx="959" cy="452" r="20"/><text x="959" y="458">CDC45</text></g>
<g id="SETDB1" class="n"><circle cx="1057" cy="490" r="20"/><text x="1057" y="496">SETDB1</text></g>
<g id="PITX1" class="n"><circle cx="1133" cy="485" r="20"/><text x="1133" y="491">PITX1</text></g>
<g id="KAT7" class="n"><circle cx="990" cy="519" r="20"/><text x="990" y="525">KAT7</text></g>
<g id="ZBTB48" class="n"><circle cx="1028" cy="552" r="20"/><text x="1028" y="558">ZBTB48</text></g>
<g id="CSNK1E" class="n"><circle cx="1120" cy="547" r="20"/><text x="1118" y="553">CSNK1E</text></g>
<g id="DVL1" class="n"><circle cx="1138" cy="585" r="20"/><text x="1138" y="591">DVL1</text></g>
<g id="PRPF3" class="n"><circle cx="1027" cy="620" r="20"/><text x="1027" y="626">PRPF3</text></g>
<g id="MARK2" class="n"><circle cx="1125" cy="627" r="20"/><text x="1125" y="633">MARK2</text></g>
<g id="LY6H" class="n"><circle cx="1125" cy="679" r="20"/><text x="1125" y="685">LY6H</text></g>
<g id="KLHL12" class="n"><circle cx="1007" cy="688" r="20"/><text x="1007" y="694">KLHL12</text></g>
<g id="CSNK2A1" class="n"><circle cx="892" cy="713" r="20"/><text x="889" y="719">CSNK2A1</text></g>
<g id="CSNK1D" class="n"><circle cx="1012" cy="740" r="20"/><text x="1011" y="746">CSNK1D</text></g>
<g id="PPM1A" class="n"><circle cx="1126" cy="753" r="20"/><text x="1126" y="759">PPM1A</text></g>
<g id="CDK2" class="r"><circle cx="537" cy="343" r="21"/><text x="537" y="349">CDK2</text></g>
<g id="CKS1B" class="r"><circle cx="619" cy="263" r="21"/><text x="619" y="269">CKS1B</text></g>
<g id="CDK4" class="r"><circle cx="917" cy="368" r="21"/><text x="917" y="374">CDK4</text></g>
<g id="DVL3" class="r"><circle cx="952" cy="584" r="21"/><text x="952" y="590">DVL3</text></g>
<g id="MAP2K1" class="r"><circle cx="218" cy="603" r="21"/><text x="215" y="609">MAP2K1</text></g>
<g id="HDAC2" class="r"><circle cx="919" cy="955" r="21"/><text x="919" y="961">HDAC2</text></g>
<g id="RAD51" class="r"><circle cx="593" cy="987" r="21"/><text x="591" y="993">RAD51</text></g>
<g id="FZD7" class="r"><circle cx="913" cy="1290" r="21"/><text x="913" y="1296">FZD7</text></g>
<g id="EPAS1" class="b"><circle cx="195" cy="376" r="21"/><text x="195" y="382">EPAS1</text></g>
<g id="TGFBR2" class="b"><circle cx="522" cy="607" r="21"/><text x="519" y="613">TGFBR2</text></g>
<g id="MAPK10" class="b"><circle cx="440" cy="832" r="21"/><text x="438" y="838">MAPK10</text></g>
<g id="KIT" class="b"><circle cx="242" cy="1024" r="21"/><text x="242" y="1030">KIT</text></g>
<g id="NKX3-1" class="b"><circle cx="383" cy="1313" r="21"/><text x="381" y="1319">NKX3-1</text></g>
</g>
</svg>
